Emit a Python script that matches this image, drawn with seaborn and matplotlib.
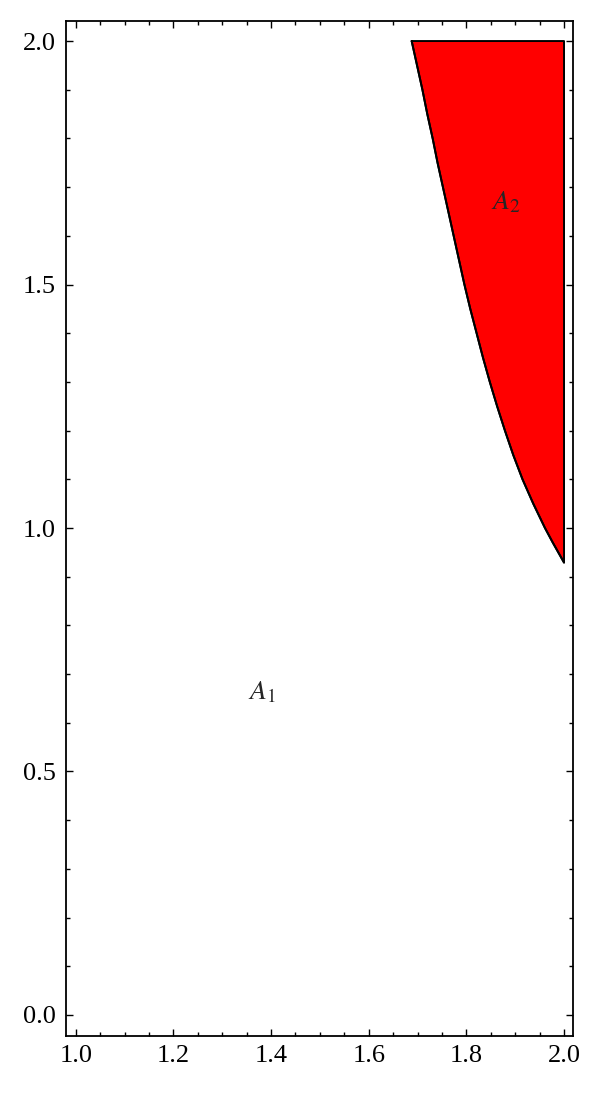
import matplotlib
matplotlib.use("Agg")
import matplotlib.pyplot as plt
import matplotlib.ticker as mticker
import seaborn as sns
import pandas as pd

# boundary of region A2 (y, x on the curve)
curve_y = [2.0, 1.95, 1.9, 1.85, 1.8, 1.75, 1.7, 1.65, 1.6, 1.55, 1.5, 1.45,
           1.4, 1.35, 1.3, 1.25, 1.2, 1.15, 1.1, 1.05, 1.0, 0.97, 0.929]
curve_x = [1.688, 1.699, 1.710, 1.720, 1.731, 1.741, 1.752, 1.763, 1.774, 1.785, 1.796, 1.808,
           1.821, 1.834, 1.848, 1.863, 1.879, 1.896, 1.915, 1.937, 1.961, 1.977, 2.0]
right_edge = 2.0

x_ticks = [1.0, 1.2, 1.4, 1.6, 1.8, 2.0]
y_ticks = [0.0, 0.5, 1.0, 1.5, 2.0]

region_labels = [r"$A_1$", r"$A_2$"]
label_x = [1.382, 1.880]
label_y = [0.661, 1.669]

df = pd.DataFrame({"x": curve_x, "y": curve_y})

sns.set_theme(style="ticks")
plt.rcParams["font.family"] = ["Liberation Serif", "DejaVu Serif"]
plt.rcParams["mathtext.fontset"] = "stix"

fig = plt.figure(figsize=(6, 10.97), dpi=100)
ax = fig.add_axes([0.1095, 0.0559, 0.846, 0.9252])

# filled region: curve on the left, x = 2 on the right
ax.fill_betweenx(df["y"], df["x"], right_edge, facecolor="#ff0000", edgecolor="none", zorder=1)
poly_x = list(curve_x) + [right_edge, curve_x[0]]
poly_y = list(curve_y) + [curve_y[0], curve_y[0]]
ax.plot(poly_x, poly_y, color="black", lw=1.4, zorder=2, solid_joinstyle="round")
sns.lineplot(data=df, x="x", y="y", sort=False, color="black", lw=1.4, ax=ax, zorder=3)

for t, xx, yy in zip(region_labels, label_x, label_y):
    ax.text(xx, yy, t, fontsize=20, ha="center", va="center")

ax.set_xlim(0.9795, 2.019)
ax.set_ylim(-0.0425, 2.0417)
ax.set_xticks(x_ticks)
ax.set_yticks(y_ticks)
ax.xaxis.set_major_formatter(mticker.FormatStrFormatter("%.1f"))
ax.yaxis.set_major_formatter(mticker.FormatStrFormatter("%.1f"))
ax.xaxis.set_minor_locator(mticker.MultipleLocator(0.05))
ax.yaxis.set_minor_locator(mticker.MultipleLocator(0.1))
ax.tick_params(which="both", direction="in", top=True, right=True, width=1.0, colors="black")
ax.tick_params(which="major", length=5, labelsize=19, pad=7)
ax.tick_params(which="minor", length=3)
for s in ax.spines.values():
    s.set_linewidth(1.3)
    s.set_color("black")
ax.set_xlabel("")
ax.set_ylabel("")

fig.savefig("out.png", dpi=100)
